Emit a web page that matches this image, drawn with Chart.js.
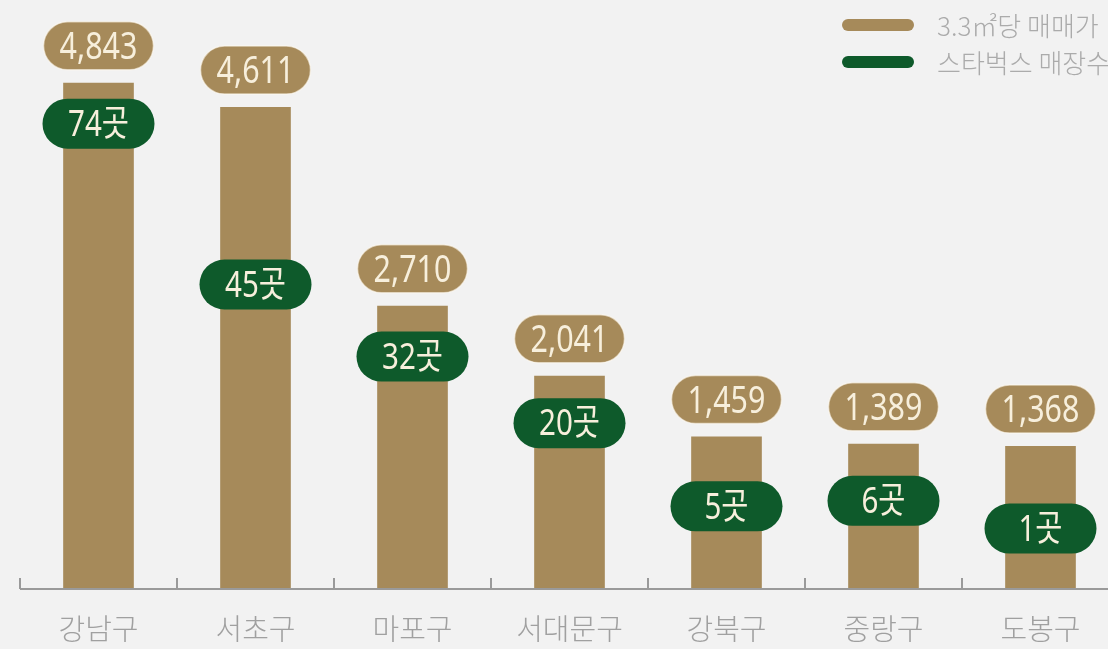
<!DOCTYPE html>
<html><head><meta charset="utf-8">
<script src="https://cdn.jsdelivr.net/npm/chart.js@4"></script>
<style>
html,body{margin:0;padding:0;background:#f2f2f2;overflow:hidden;width:1108px;height:649px;}
#wrap{position:absolute;left:0;top:0;width:1125px;height:649px;}
</style></head><body>
<div id="wrap"><canvas id="c" width="1125" height="649"></canvas></div>
<script>
const categories = ['강남구','서초구','마포구','서대문구','강북구','중랑구','도봉구'];
const prices = [4843,4611,2710,2041,1459,1389,1368];
const stores = [74,45,32,20,5,6,1];
const seriesNames = ['3.3㎡당 매매가','스타벅스 매장수'];

const TAN = '#a68a5a', GREEN = '#0e5a2b', CREAM = '#f7efdc';
const NUMFONT = '"Noto Sans", "Noto Sans CJK KR", sans-serif';

function pill(ctx, cx, cy, w, h, fill, stroke){
  const r = h/2;
  ctx.beginPath();
  ctx.moveTo(cx - w/2 + r, cy - r);
  ctx.lineTo(cx + w/2 - r, cy - r);
  ctx.arc(cx + w/2 - r, cy, r, -Math.PI/2, Math.PI/2);
  ctx.lineTo(cx - w/2 + r, cy + r);
  ctx.arc(cx - w/2 + r, cy, r, Math.PI/2, Math.PI*1.5);
  ctx.closePath();
  ctx.fillStyle = fill; ctx.fill();
  if (stroke){ ctx.lineWidth = 1.5; ctx.strokeStyle = stroke; ctx.stroke(); }
}
function condText(ctx, txt, cx, cy, size, sx){
  ctx.save();
  ctx.translate(cx, cy);
  ctx.scale(sx, 1);
  ctx.font = '400 ' + size + 'px ' + NUMFONT;
  ctx.fillStyle = CREAM;
  ctx.textAlign = 'center';
  ctx.textBaseline = 'middle';
  ctx.fillText(txt, 0, 2);
  ctx.restore();
}

const decor = {
  id: 'decor',
  afterDatasetsDraw(chart){
    const ctx = chart.ctx, ca = chart.chartArea;
    ctx.save();
    ctx.strokeStyle = '#9a9a9a'; ctx.lineWidth = 2;
    ctx.beginPath(); ctx.moveTo(ca.left, ca.bottom); ctx.lineTo(ca.right, ca.bottom); ctx.stroke();
    const n = categories.length, step = (ca.right - ca.left)/n;
    for (let i = 0; i <= n; i++){
      const x = ca.left + i*step;
      ctx.beginPath(); ctx.moveTo(x, ca.bottom); ctx.lineTo(x, ca.bottom - 11); ctx.stroke();
    }
    chart.getDatasetMeta(0).data.forEach((bar, i) => {
      const cy = bar.y - 37;
      pill(ctx, bar.x, cy, 110, 48, TAN, 'rgba(255,250,240,0.6)');
      condText(ctx, prices[i].toLocaleString('en-US'), bar.x, cy, 39, 0.78);
    });
    chart.getDatasetMeta(1).data.forEach((pt, i) => {
      pill(ctx, pt.x, pt.y, 112, 50, GREEN, null);
      condText(ctx, stores[i] + '곳', pt.x, pt.y, 36, 0.82);
    });
    const lx = 842, ly = [25, 62];
    [TAN, GREEN].forEach((col, k) => {
      ctx.lineCap = 'round'; ctx.lineWidth = 12; ctx.strokeStyle = col;
      ctx.beginPath(); ctx.moveTo(lx + 6, ly[k]); ctx.lineTo(lx + 66, ly[k]); ctx.stroke();
      ctx.font = '300 26px "Noto Sans CJK KR", sans-serif';
      ctx.fillStyle = '#ababab'; ctx.textAlign = 'left'; ctx.textBaseline = 'middle';
      ctx.fillText(seriesNames[k], 937, ly[k] + 1);
    });
    ctx.restore();
  }
};

new Chart(document.getElementById('c'), {
  data: {
    labels: categories,
    datasets: [
      { type: 'bar', label: seriesNames[0], data: prices, backgroundColor: TAN,
        barPercentage: 0.9, categoryPercentage: 0.5, yAxisID: 'y', order: 2 },
      { type: 'line', label: seriesNames[1], data: stores, showLine: false,
        pointRadius: 0, borderColor: GREEN, backgroundColor: GREEN, yAxisID: 'y2', order: 1 }
    ]
  },
  options: {
    responsive: false, animation: false,
    layout: { padding: { left: 20, right: 6, top: 10, bottom: 0 } },
    plugins: { legend: { display: false }, tooltip: { enabled: false } },
    scales: {
      x: {
        grid: { display: false, drawTicks: false, tickLength: 0 }, border: { display: false },
        ticks: { padding: 23, color: '#a0a0a0', font: { family: '"Noto Sans CJK KR", sans-serif', size: 29, weight: 300 } },
        afterFit(scale){ scale.height = 60; }
      },
      y: { display: false, min: 0, max: 5540 },
      y2: { display: false, min: -9.9, max: 94.5 }
    }
  },
  plugins: [decor]
});
</script>
</body></html>
